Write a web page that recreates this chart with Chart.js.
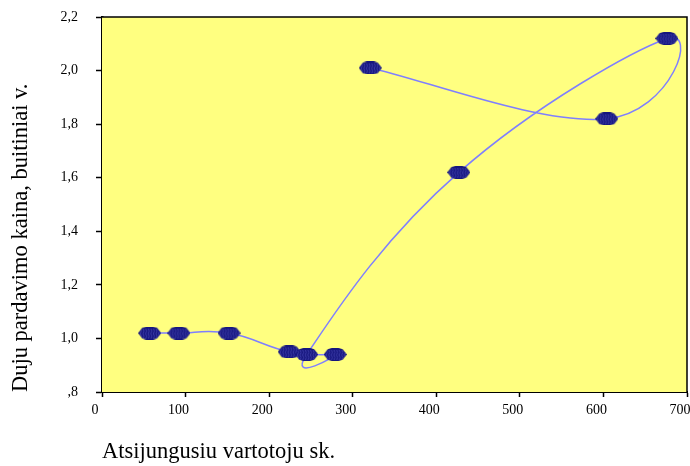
<!DOCTYPE html>
<html>
<head>
<meta charset="utf-8">
<script src="https://cdn.jsdelivr.net/npm/chart.js@4/dist/chart.umd.min.js"></script>
<style>
  html, body { margin: 0; padding: 0; background: #ffffff; overflow: hidden; }
  #wrap { width: 690px; height: 466px; overflow: hidden; }
  #c { display: block; }
</style>
</head>
<body>
<div id="wrap"><canvas id="c" width="700" height="466"></canvas></div>
<script>
// Disconnected customers (x) against gas selling price (y), in time order
const customers = [57, 92, 152, 224, 279, 245, 427, 676, 604, 321];
const prices    = [1.02, 1.02, 1.02, 0.95, 0.94, 0.94, 1.62, 2.12, 1.82, 2.01];

const xTickValues = [0, 100, 200, 300, 400, 500, 600, 700];
const yTickLabels = [',8', '1,0', '1,2', '1,4', '1,6', '1,8', '2,0', '2,2'];

const FONT = '"Liberation Serif", "Times New Roman", serif';
const SMOOTHING = 0.22;   // tangent factor of the smoothed line
const HANDLE_CAP = 1.27;  // longest handle, relative to the neighbouring segment

// Textured navy octagon used as the point marker
function makeMarker() {
  const w = 23, h = 13;
  const cv = document.createElement('canvas');
  cv.width = w; cv.height = h;
  const g = cv.getContext('2d');
  g.beginPath();
  g.moveTo(0, 6.5);
  g.lineTo(4, 1.2);
  g.lineTo(8, 0);
  g.lineTo(15, 0);
  g.lineTo(19, 1.2);
  g.lineTo(23, 6.5);
  g.lineTo(19, 11.8);
  g.lineTo(15, 13);
  g.lineTo(8, 13);
  g.lineTo(4, 11.8);
  g.closePath();
  g.fillStyle = '#16167e';
  g.fill();
  g.save();
  g.clip();
  g.strokeStyle = '#4a4ab6';
  g.lineWidth = 0.8;
  for (let x = 2.5; x < w; x += 2.6) {
    g.beginPath();
    g.moveTo(x, 2);
    g.lineTo(x + 0.8, 4.5);
    g.lineTo(x - 0.2, 7);
    g.lineTo(x + 0.8, 9.5);
    g.lineTo(x, 12);
    g.stroke();
  }
  g.restore();
  return cv;
}

// Uniform Catmull-Rom style control points, so the curve loops freely
// where consecutive points double back on each other
const uniformSpline = {
  id: 'uniformSpline',
  beforeDatasetDraw(chart, args) {
    const meta = args.meta;
    const line = meta.dataset;
    const pts = meta.data;
    if (!line || !pts.length) return;
    line.updateControlPoints(chart.chartArea, 'x');
    const n = pts.length;
    const handle = (p, q, tx, ty, sign) => {
      const seg = Math.hypot(q.x - p.x, q.y - p.y);
      const len = Math.hypot(tx, ty);
      const k = len > seg * HANDLE_CAP && len > 0 ? (seg * HANDLE_CAP) / len : 1;
      return { x: p.x + sign * tx * k, y: p.y + sign * ty * k };
    };
    for (let i = 0; i < n; i++) {
      const p = pts[i];
      const prev = pts[Math.max(i - 1, 0)];
      const next = pts[Math.min(i + 1, n - 1)];
      const tx = (next.x - prev.x) * SMOOTHING;
      const ty = (next.y - prev.y) * SMOOTHING;
      const c1 = handle(p, prev, tx, ty, -1);
      const c2 = handle(p, next, tx, ty, 1);
      p.cp1x = c1.x; p.cp1y = c1.y;
      p.cp2x = c2.x; p.cp2y = c2.y;
    }
    line._pointsUpdated = true;
    line._path = undefined;
  }
};

// Yellow plot area and its frame
const plotFrame = {
  id: 'plotFrame',
  beforeDatasetsDraw(chart) {
    const { ctx, chartArea: a } = chart;
    ctx.save();
    ctx.fillStyle = '#ffff80';
    ctx.fillRect(a.left, a.top, a.right - a.left, a.bottom - a.top);
    ctx.restore();
  },
  afterDraw(chart) {
    const { ctx, chartArea: a } = chart;
    ctx.save();
    ctx.strokeStyle = '#000000';
    ctx.lineWidth = 1.5;
    ctx.beginPath();
    ctx.moveTo(a.left, a.top);
    ctx.lineTo(a.right, a.top);
    ctx.lineTo(a.right, a.bottom);
    ctx.stroke();
    ctx.restore();
  }
};

new Chart(document.getElementById('c'), {
  type: 'scatter',
  data: {
    datasets: [{
      data: customers.map((x, i) => ({ x: x, y: prices[i] })),
      showLine: true,
      borderColor: '#7f7fff',
      borderWidth: 1.5,
      tension: 0.4,
      fill: false,
      pointStyle: makeMarker(),
      pointRadius: 8,
      pointHoverRadius: 8
    }]
  },
  options: {
    responsive: false,
    devicePixelRatio: 1,
    animation: false,
    events: [],
    layout: { padding: { top: 17, right: 13, left: 0, bottom: 0 } },
    plugins: { legend: { display: false }, tooltip: { enabled: false } },
    elements: { line: { capBezierPoints: false } },
    scales: {
      x: {
        type: 'linear',
        min: 0, max: 700,
        afterBuildTicks(scale) { scale.ticks = xTickValues.map(v => ({ value: v })); },
        afterFit(scale) { scale.height = 74; scale.paddingLeft = 0; scale.paddingRight = 0; },
        grid: { drawOnChartArea: false, drawTicks: true, tickLength: 5, color: '#000000', tickWidth: 1.5 },
        border: { display: true, color: '#000000', width: 2 },
        ticks: {
          color: '#000000', padding: 5, maxRotation: 0, autoSkip: false, labelOffset: -7,
          font: { family: FONT, size: 14 },
          callback: (v) => String(v)
        },
        title: {
          display: true, text: 'Atsijungusiu vartotoju sk.', align: 'start',
          color: '#000000', font: { family: FONT, size: 22.5 }, padding: { top: 0, bottom: 0 }
        }
      },
      y: {
        type: 'linear',
        min: 0.8, max: 2.2,
        afterBuildTicks(scale) { scale.ticks = yTickLabels.map((t, i) => ({ value: 0.8 + 0.2 * i })); },
        afterFit(scale) { scale.width = 102; scale.paddingTop = 0; scale.paddingBottom = 0; },
        grid: { drawOnChartArea: false, drawTicks: true, tickLength: 6, color: '#000000', tickWidth: 1.5 },
        border: { display: true, color: '#000000', width: 2.5 },
        ticks: {
          color: '#000000', padding: 18, autoSkip: false,
          font: { family: FONT, size: 14 },
          callback: (v, i) => yTickLabels[i]
        },
        title: {
          display: true, text: 'Duju pardavimo kaina, buitiniai v.', align: 'start',
          color: '#000000', font: { family: FONT, size: 22.5 }, padding: { top: 7.5, bottom: 0 }
        }
      }
    }
  },
  plugins: [uniformSpline, plotFrame]
});
</script>
</body>
</html>
